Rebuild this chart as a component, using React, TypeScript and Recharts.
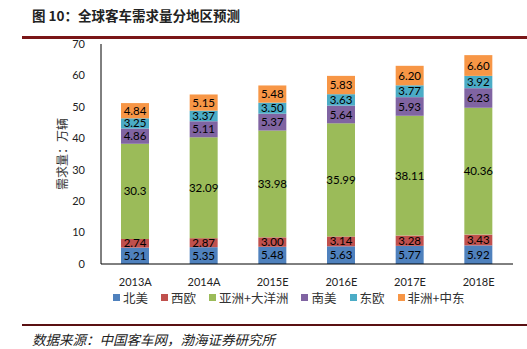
import React from 'react';
import { BarChart, Bar, XAxis, YAxis, LabelList } from 'recharts';

const years = ['2013A', '2014A', '2015E', '2016E', '2017E', '2018E'];
const northAmerica = [5.21, 5.35, 5.48, 5.63, 5.77, 5.92];
const westEurope = [2.74, 2.87, 3.0, 3.14, 3.28, 3.43];
const asiaPacific = [30.3, 32.09, 33.98, 35.99, 38.11, 40.36];
const southAmerica = [4.86, 5.11, 5.37, 5.64, 5.93, 6.23];
const eastEurope = [3.25, 3.37, 3.5, 3.63, 3.77, 3.92];
const africaMideast = [4.84, 5.15, 5.48, 5.83, 6.2, 6.6];
const yTicks = [0, 10, 20, 30, 40, 50, 60, 70];

const series = [
  { key: 'na', name: '北美', values: northAmerica, color: '#4F81BD' },
  { key: 'we', name: '西欧', values: westEurope, color: '#C0504D' },
  { key: 'ap', name: '亚洲+大洋洲', values: asiaPacific, color: '#9BBB59' },
  { key: 'sa', name: '南美', values: southAmerica, color: '#8064A2' },
  { key: 'ee', name: '东欧', values: eastEurope, color: '#4BACC6' },
  { key: 'am', name: '非洲+中东', values: africaMideast, color: '#F79646' },
];

const data = years.map((y, i) => {
  const row: any = { year: y };
  series.forEach((s) => (row[s.key] = s.values[i]));
  return row;
});

const numFont = 'Lato, "Noto Sans CJK SC", sans-serif';
const cjk = '"Noto Sans CJK SC", sans-serif';

export default function App() {
  return (
    <div style={{ position: 'absolute', left: 0, top: 0, width: 527, height: 349, background: '#fff', overflow: 'hidden' }}>
      <div style={{ position: 'absolute', left: 32, top: 5, fontFamily: cjk, fontWeight: 700, fontSize: 13.5, color: '#222' }}>
        图 10：全球客车需求量分地区预测
      </div>
      <div style={{ position: 'absolute', left: 22, top: 36, width: 505, height: 3, background: '#7A1517' }} />

      <BarChart width={527} height={349} data={data} margin={{ top: 44, right: 14, bottom: 55, left: 71 }}>
        <XAxis
          dataKey="year"
          tickLine={false}
          axisLine={{ stroke: '#000' }}
          tick={{ fill: '#222', fontSize: 11, fontFamily: numFont }}
          height={30}
          tickMargin={8}
        />
        <YAxis
          domain={[0, 70]}
          ticks={yTicks}
          tickLine={false}
          axisLine={{ stroke: '#000' }}
          tick={{ fill: '#222', fontSize: 11, fontFamily: numFont }}
          width={30}
          tickMargin={10}
        />
        {series.map((s) => (
          <Bar key={s.key} dataKey={s.key} name={s.name} stackId="a" fill={s.color} barSize={28} isAnimationActive={false}>
            <LabelList
              dataKey={s.key}
              position="center"
              fill="#000"
              fontSize={11.5}
              fontFamily={numFont}
              formatter={(v: any) => (s.key === 'ap' ? String(v) : Number(v).toFixed(2))}
            />
          </Bar>
        ))}
      </BarChart>

      <div
        style={{
          position: 'absolute',
          left: 62,
          top: 154,
          lineHeight: '14px',
          transform: 'translate(-50%, -50%) rotate(-90deg)',
          whiteSpace: 'nowrap',
          fontFamily: cjk,
          fontSize: 12,
          color: '#333',
        }}
      >
        需求量：万辆
      </div>

      <div style={{ position: 'absolute', left: 113, top: 288, display: 'flex', fontFamily: cjk, fontSize: 12.5, color: '#333' }}>
        {series.map((s) => (
          <div key={s.key} style={{ display: 'flex', alignItems: 'center', marginRight: 13 }}>
            <span style={{ width: 7, height: 7, background: s.color, marginRight: 3, display: 'inline-block' }} />
            {s.name}
          </div>
        ))}
      </div>

      <div style={{ position: 'absolute', left: 22, top: 324, width: 505, height: 2, background: '#5A1012' }} />
      <div style={{ position: 'absolute', left: 32, top: 329, fontFamily: cjk, fontStyle: 'italic', fontSize: 13.5, color: '#222' }}>
        数据来源：中国客车网，渤海证券研究所
      </div>
    </div>
  );
}
